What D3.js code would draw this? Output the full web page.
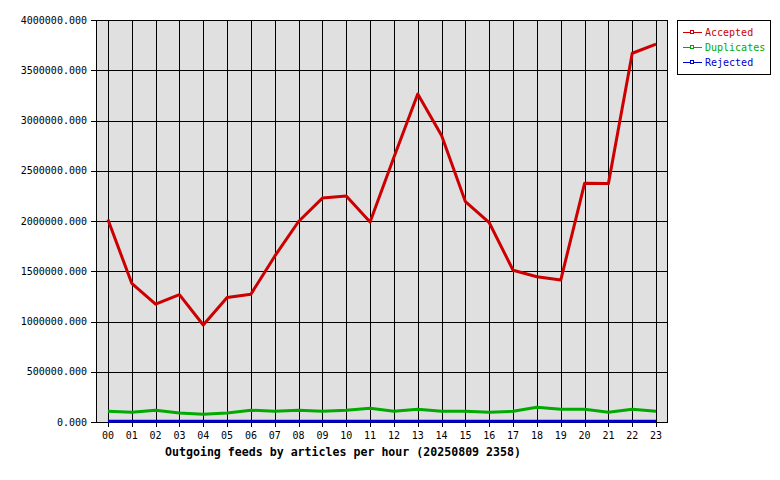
<!DOCTYPE html>
<html>
<head>
<meta charset="utf-8">
<script src="https://cdn.jsdelivr.net/npm/d3@7"></script>
<style>
  body { margin: 0; background: #fff; }
  svg { display: block; }
  text { font-family: "DejaVu Sans Mono", monospace; }
</style>
</head>
<body>
<div id="chart"></div>
<script>
const hours = ["00","01","02","03","04","05","06","07","08","09","10","11",
               "12","13","14","15","16","17","18","19","20","21","22","23"];
const accepted = [2015000, 1380000, 1172000, 1267000, 965000, 1238000, 1272000, 1650000,
                  1995000, 2228000, 2248000, 1990000, 2635000, 3264000, 2850000, 2192000,
                  1983000, 1510000, 1446000, 1412000, 2375000, 2372000, 3669000, 3760000];
const duplicates = [108000, 98000, 118000, 90000, 78000, 90000, 118000, 106000,
                    116000, 106000, 116000, 136000, 106000, 126000, 106000, 106000,
                    96000, 106000, 146000, 126000, 126000, 96000, 126000, 106000];
const rejected = [8000, 8000, 8000, 8000, 8000, 8000, 8000, 8000, 8000, 8000, 8000, 8000,
                  8000, 8000, 8000, 8000, 8000, 8000, 8000, 8000, 8000, 8000, 8000, 8000];
const yTicks = [0, 500000, 1000000, 1500000, 2000000, 2500000, 3000000, 3500000, 4000000];
const title = "Outgoing feeds by articles per hour (20250809 2358)";

const series = [
  { name: "Accepted", values: accepted, color: "#cc0000" },
  { name: "Duplicates", values: duplicates, color: "#00aa00" },
  { name: "Rejected", values: rejected, color: "#0000cc" }
];

const width = 780, height = 480;
const margin = { top: 20, right: 112, bottom: 58, left: 96 };

const svg = d3.select("#chart").append("svg")
  .attr("width", width).attr("height", height);

const x = d3.scalePoint()
  .domain(hours)
  .range([margin.left, width - margin.right])
  .padding(0.5);

const y = d3.scaleLinear()
  .domain([0, 4000000])
  .range([height - margin.bottom, margin.top]);

// plot background
svg.append("rect")
  .attr("x", margin.left).attr("y", margin.top)
  .attr("width", width - margin.left - margin.right)
  .attr("height", height - margin.top - margin.bottom)
  .attr("fill", "#e0e0e0");

// grid
svg.append("g")
  .selectAll("line")
  .data(hours)
  .join("line")
  .attr("x1", d => Math.round(x(d)) + 0.5).attr("x2", d => Math.round(x(d)) + 0.5)
  .attr("y1", margin.top).attr("y2", height - margin.bottom + 5)
  .attr("stroke", "#000").attr("stroke-width", 1);

svg.append("g")
  .selectAll("line")
  .data(yTicks)
  .join("line")
  .attr("x1", margin.left - 5).attr("x2", width - margin.right)
  .attr("y1", d => Math.round(y(d)) + 0.5).attr("y2", d => Math.round(y(d)) + 0.5)
  .attr("stroke", "#000").attr("stroke-width", 1);

// frame
svg.append("rect")
  .attr("x", margin.left + 0.5).attr("y", margin.top + 0.5)
  .attr("width", width - margin.left - margin.right - 1)
  .attr("height", height - margin.top - margin.bottom)
  .attr("fill", "none").attr("stroke", "#000");

// y labels
svg.append("g")
  .selectAll("text")
  .data(yTicks)
  .join("text")
  .attr("x", margin.left - 9)
  .attr("y", d => y(d))
  .attr("dy", "0.35em")
  .attr("text-anchor", "end")
  .attr("font-size", 10)
  .text(d => d3.format(".3f")(d));

// x labels
svg.append("g")
  .selectAll("text")
  .data(hours)
  .join("text")
  .attr("x", d => x(d))
  .attr("y", height - margin.bottom + 13)
  .attr("dy", "0.35em")
  .attr("text-anchor", "middle")
  .attr("font-size", 10)
  .text(d => d);

svg.append("text")
  .attr("x", 343)
  .attr("y", 452)
  .attr("dy", "0.35em")
  .attr("text-anchor", "middle")
  .attr("font-size", 11.6)
  .attr("font-weight", "bold")
  .text(title);

// lines
const line = d3.line()
  .x((d, i) => x(hours[i]))
  .y(d => y(d));

svg.append("g")
  .selectAll("path")
  .data(series.slice().reverse())
  .join("path")
  .attr("d", d => line(d.values))
  .attr("fill", "none")
  .attr("stroke", d => d.color)
  .attr("stroke-width", 3)
  .attr("stroke-linejoin", "round");

// legend
const lg = svg.append("g");
lg.append("rect")
  .attr("x", 677.5).attr("y", 20.5)
  .attr("width", 93).attr("height", 54)
  .attr("fill", "#fff").attr("stroke", "#000");

const items = lg.selectAll("g")
  .data(series)
  .join("g")
  .attr("transform", (d, i) => `translate(0, ${32 + i * 15})`);

items.append("line")
  .attr("x1", 683).attr("x2", 702)
  .attr("y1", 0.5).attr("y2", 0.5)
  .attr("stroke", d => d.color);

items.append("rect")
  .attr("x", 690.5).attr("y", -1.5)
  .attr("width", 3).attr("height", 3)
  .attr("fill", "#fff")
  .attr("stroke", d => d.color);

items.append("text")
  .attr("x", 705)
  .attr("y", 0)
  .attr("dy", "0.35em")
  .attr("font-size", 10)
  .attr("fill", d => d.color)
  .text(d => d.name);
</script>
</body>
</html>
